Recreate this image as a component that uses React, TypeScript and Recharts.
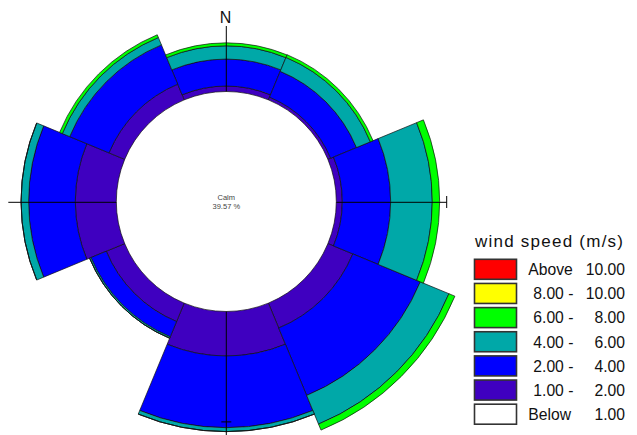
import React from 'react';
import {
  RadialBarChart,
  RadialBar,
  PolarAngleAxis,
  PolarRadiusAxis,
} from 'recharts';

// Wind directions, clockwise from north
const directions = ['N', 'NE', 'E', 'SE', 'S', 'SW', 'W', 'NW'];

// Frequency of occurrence (%) per direction for each wind speed class
const freq1to2 = [0.5, 0.27, 0.55, 2.46, 4.06, 1.82, 3.74, 1.55];
const freq2to4 = [2.46, 2.55, 4.41, 6.66, 6.54, 1.51, 4.26, 3.88];
const freq4to6 = [1.21, 1.37, 3.8, 2.83, 0.36, 0.14, 0.69, 0.73];
const freq6to8 = [0.27, 0.27, 0.67, 0.59, 0, 0, 0, 0.27];
const freq8to10 = [0, 0, 0, 0, 0, 0, 0, 0];
const freqAbove10 = [0, 0, 0, 0, 0, 0, 0, 0];

const calmPercent = 39.57;

// Speed classes, innermost first
const classKeys = ['c1', 'c2', 'c3', 'c4', 'c5', 'c6'];
const classSeries = [freq1to2, freq2to4, freq4to6, freq6to8, freq8to10, freqAbove10];
const classColors = ['#3f00c0', '#0000ff', '#00a8a8', '#00ff00', '#ffff00', '#ff0000'];

// Legend rows, top to bottom
const legendLeft = ['Above', '8.00 -', '6.00 -', '4.00 -', '2.00 -', '1.00 -', 'Below'];
const legendRight = ['10.00', '10.00', '8.00', '6.00', '4.00', '2.00', '1.00'];
const legendColors = ['#ff0000', '#ffff00', '#00ff00', '#00a8a8', '#0000ff', '#3f00c0', '#ffffff'];

const data = directions.map((dir, i) => {
  const row: Record<string, string | number> = { dir };
  classKeys.forEach((k, j) => {
    row[k] = classSeries[j][i];
  });
  return row;
});

const W = 621;
const H = 427;
const CX = 218.3;
const CY = 193.5;
const CALM_R = 110;
const RADIUS_MAX = 14;
const PX_PER_UNIT = 10.96;
const OUTER_R = CALM_R + RADIUS_MAX * PX_PER_UNIT;
const FONT = "'Liberation Sans', Arial, sans-serif";

// Compass cross, calm label and legend, drawn above the rose
const Overlay = () => {
  const armEnd = 220.4;
  return (
    <svg
      width={W}
      height={H}
      style={{ position: 'absolute', left: 0, top: 0, pointerEvents: 'none' }}
    >
      <line x1={CX} y1={CY - CALM_R} x2={CX} y2={CY - 175.5} stroke="#000" strokeWidth={1} />
      <line x1={CX} y1={CY + CALM_R} x2={CX} y2={H} stroke="#000" strokeWidth={1} />
      <line x1={CX + CALM_R} y1={CY + 0.8} x2={CX + armEnd} y2={CY + 0.8} stroke="#000" strokeWidth={1} />
      <line x1={CX - CALM_R} y1={CY + 0.8} x2={CX - 218} y2={CY + 0.8} stroke="#000" strokeWidth={1} />
      <line x1={CX + armEnd} y1={CY - 5.5} x2={CX + armEnd} y2={CY + 6.5} stroke="#000" strokeWidth={1} />
      <line x1={CX - 5} y1={CY + armEnd} x2={CX + 5} y2={CY + armEnd} stroke="#000" strokeWidth={1} />
      <text x={CX - 0.8} y={CY - 179} textAnchor="middle" fontFamily={FONT} fontSize={16} fill="#111">
        N
      </text>
      <text x={CX} y={CY - 1.5} textAnchor="middle" fontFamily={FONT} fontSize={7.5} fill="#444">
        Calm
      </text>
      <text x={CX} y={CY + 7} textAnchor="middle" fontFamily={FONT} fontSize={7.5} fill="#444">
        {`${calmPercent.toFixed(2)} %`}
      </text>

      <text
        x={467}
        y={239.3}
        fontFamily={FONT}
        fontSize={17}
        textLength={148}
        lengthAdjust="spacing"
        fill="#111"
      >
        wind speed (m/s)
      </text>
      {legendLeft.map((lbl, i) => {
        const top = 251.3 + i * 24.15;
        const wide = lbl === 'Above' || lbl === 'Below';
        return (
          <g key={lbl + i}>
            <rect
              x={466.5}
              y={top}
              width={42}
              height={20}
              fill={legendColors[i]}
              stroke="#333"
              strokeWidth={1.6}
            />
            <text x={wide ? 520.3 : 525.3} y={top + 15.8} fontFamily={FONT} fontSize={15.7} fill="#111">
              {lbl}
            </text>
            <text x={617} y={top + 15.8} textAnchor="end" fontFamily={FONT} fontSize={15.7} fill="#111">
              {legendRight[i]}
            </text>
          </g>
        );
      })}
    </svg>
  );
};

export default function App() {
  const drawn = classKeys
    .map((k, j) => ({ k, j }))
    .filter(({ j }) => classSeries[j].some((v) => v > 0));
  return (
    <div style={{ position: 'relative', width: W, height: H }}>
      <RadialBarChart
        width={W}
        height={H}
        data={data}
        layout="centric"
        cx={CX}
        cy={CY}
        innerRadius={CALM_R}
        outerRadius={OUTER_R}
        startAngle={67.5}
        endAngle={-292.5}
        barCategoryGap={0}
        barGap={0}
        margin={{ top: 0, right: 0, bottom: 0, left: 0 }}
      >
        <PolarAngleAxis type="category" dataKey="dir" tick={false} axisLine={false} tickLine={false} />
        <PolarRadiusAxis
          type="number"
          domain={[0, RADIUS_MAX]}
          allowDataOverflow
          tick={false}
          axisLine={false}
          tickLine={false}
        />
        {drawn.map(({ k, j }) => (
          <RadialBar
            key={k}
            dataKey={k}
            stackId="rose"
            fill={classColors[j]}
            stroke="#111"
            strokeWidth={0.7}
            isAnimationActive={false}
          />
        ))}
      </RadialBarChart>
      <Overlay />
    </div>
  );
}
